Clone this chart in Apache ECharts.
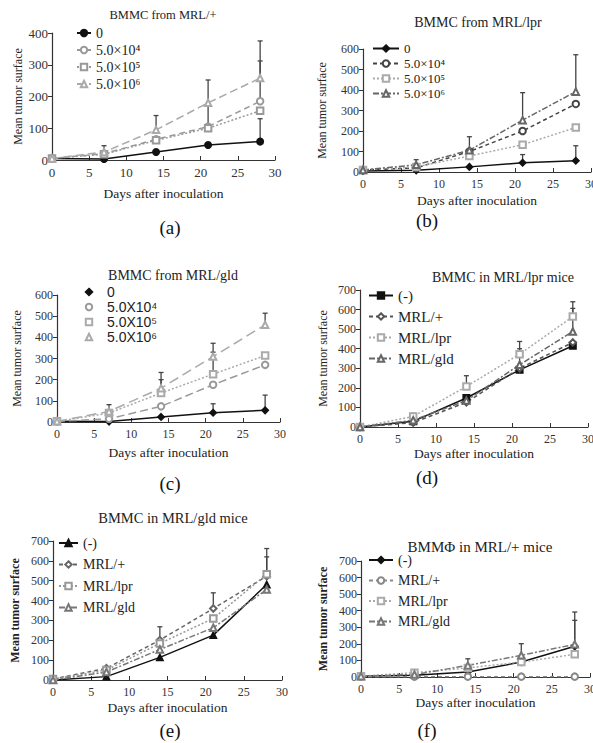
<!DOCTYPE html>
<html><head><meta charset="utf-8">
<script src="https://cdn.jsdelivr.net/npm/echarts@6/dist/echarts.min.js"></script>
<style>html,body{margin:0;padding:0;background:#fff}#c{width:593px;height:743px}</style>
</head><body><div id="c"></div>
<script>
// ---------- data ----------
const days = [0, 7, 14, 21, 28];
const doseNames = ['0', '5.0×10⁴', '5.0×10⁵', '5.0×10⁶'];
const doseNamesC = ['0', '5.0X10⁴', '5.0X10⁵', '5.0X10⁶'];
const donorNames = ['(-)', 'MRL/+', 'MRL/lpr', 'MRL/gld'];

// (a) BMMC from MRL/+
const a0 = [5, 3, 25, 47, 58];
const a4 = [5, 20, 65, 105, 185];
const a5 = [5, 18, 62, 100, 155];
const a6 = [5, 25, 95, 180, 258];
const a0Up = [null, null, null, null, 130];
const a4Up = [null, null, null, 175, 312];
const a5Up = [null, null, null, null, null];
const a6Up = [null, 45, 140, 252, 375];

// (b) BMMC from MRL/lpr
const b0 = [5, 8, 25, 45, 55];
const b4 = [10, 20, 100, 200, 332];
const b5 = [10, 25, 78, 133, 217];
const b6 = [10, 35, 106, 253, 392];
const b0Up = [null, null, null, 85, 128];
const b4Up = [null, null, null, null, null];
const b5Up = [null, null, null, null, null];
const b6Up = [null, 60, 172, 387, 572];

// (c) BMMC from MRL/gld
const c0 = [3, 2, 24, 44, 55];
const c4 = [3, 15, 74, 176, 270];
const c5 = [3, 42, 137, 226, 314];
const c6 = [3, 50, 160, 309, 459];
const c0Up = [null, null, null, 86, 127];
const c4Up = [null, null, null, null, null];
const c5Up = [null, null, 200, 330, null];
const c6Up = [null, 82, 234, 372, 514];

// (d) BMMC in MRL/lpr mice
const d0 = [0, 29, 148, 292, 415];
const dP = [0, 22, 126, 300, 432];
const dL = [0, 54, 207, 372, 564];
const dG = [0, 35, 135, 318, 488];
const d0Up = [null, null, null, null, null];
const dPUp = [null, null, null, null, null];
const dLUp = [null, 70, 262, 437, 640];
const dGUp = [null, null, null, 400, 606];

// (e) BMMC in MRL/gld mice
const e0 = [0, 17, 114, 226, 481];
const eP = [5, 59, 201, 360, 523];
const eL = [5, 50, 184, 310, 533];
const eG = [0, 40, 154, 263, 456];
const e0Up = [null, null, null, null, null];
const ePUp = [null, null, 268, 439, 662];
const eLUp = [null, null, null, null, 620];
const eGUp = [null, null, null, null, null];

// (f) BMMPhi in MRL/+ mice
const f0 = [5, 10, 30, 90, 185];
const fP = [2, 2, 2, 2, 2];
const fL = [5, 26, 55, 90, 137];
const fG = [5, 15, 70, 131, 197];
const f0Up = [null, null, null, null, 342];
const fPUp = [null, null, null, null, null];
const fLUp = [null, null, null, null, null];
const fGUp = [null, null, 110, 201, 392];

// ---------- styles / layout ----------
const SERIF = 'Liberation Serif';
const SANS = 'Liberation Sans';
const TXT = '#222';

const panels = [
  { id: 'a', title: 'BMMC from MRL/+', titlePos: [163, 15], titleSize: 12.5, label: '(a)', labelPos: [170, 227],
    grid: { left: 52, top: 33, width: 223, height: 127 }, yMax: 400, tickSize: 13,
    yNameGap: 28, xNameGap: 26, yBold: false,
    names: doseNames, data: [a0, a4, a5, a6], ups: [a0Up, a4Up, a5Up, a6Up],
    styles: [
      { c: '#111', t: 'solid', s: 'circle' },
      { c: '#999', t: [6, 4], s: 'emptyCircle' },
      { c: '#999', t: [2, 2], s: 'emptyRect' },
      { c: '#aaa', t: [8, 4], s: 'emptyTriangle' }],
    legend: { left: 76, top: 26, itemWidth: 14, itemHeight: 8, itemGap: 3, font: SERIF, size: 14, hideLine: false } },
  { id: 'b', title: 'BMMC from MRL/lpr', titlePos: [478, 22], titleSize: 14, label: '(b)', labelPos: [427, 220],
    grid: { left: 363, top: 49, width: 228, height: 123 }, yMax: 600, tickSize: 12,
    yNameGap: 35, xNameGap: 21, yBold: false,
    names: doseNames, data: [b0, b4, b5, b6], ups: [b0Up, b4Up, b5Up, b6Up],
    styles: [
      { c: '#111', t: 'solid', s: 'diamond' },
      { c: '#444', t: [4, 3], s: 'emptyCircle' },
      { c: '#aaa', t: [2, 2], s: 'emptyRect' },
      { c: '#666', t: [6, 2, 2, 2], s: 'emptyTriangle' }],
    legend: { left: 372, top: 42, itemWidth: 26, itemHeight: 8, itemGap: 2, font: SERIF, size: 13, hideLine: false } },
  { id: 'c', title: 'BMMC from MRL/gld', titlePos: [173, 275], titleSize: 14, label: '(c)', labelPos: [170, 483],
    grid: { left: 57, top: 295, width: 223, height: 127 }, yMax: 600, tickSize: 12,
    yNameGap: 34, xNameGap: 23, yBold: false,
    names: doseNamesC, data: [c0, c4, c5, c6], ups: [c0Up, c4Up, c5Up, c6Up],
    styles: [
      { c: '#111', t: 'solid', s: 'diamond' },
      { c: '#999', t: [8, 4], s: 'emptyCircle' },
      { c: '#aaa', t: [2, 2], s: 'emptyRect' },
      { c: '#aaa', t: [10, 5], s: 'emptyTriangle' }],
    legend: { left: 75, top: 285, itemWidth: 26, itemHeight: 8, itemGap: 1, font: SANS, size: 14, hideLine: true } },
  { id: 'd', title: 'BMMC in MRL/lpr mice', titlePos: [503, 277], titleSize: 14, label: '(d)', labelPos: [427, 477],
    grid: { left: 360, top: 290, width: 228, height: 137 }, yMax: 700, tickSize: 12,
    yNameGap: 31, xNameGap: 19, yBold: false,
    names: donorNames, data: [d0, dP, dL, dG], ups: [d0Up, dPUp, dLUp, dGUp],
    styles: [
      { c: '#111', t: 'solid', s: 'rect' },
      { c: '#555', t: [4, 3], s: 'emptyDiamond' },
      { c: '#aaa', t: [2, 2], s: 'emptyRect' },
      { c: '#666', t: [6, 2, 2, 2], s: 'emptyTriangle' }],
    legend: { left: 368, top: 288, itemWidth: 24, itemHeight: 8, itemGap: 6, font: SERIF, size: 15, hideLine: false } },
  { id: 'e', title: 'BMMC in MRL/gld mice', titlePos: [173, 518], titleSize: 14.5, label: '(e)', labelPos: [170, 730],
    grid: { left: 53, top: 541, width: 229, height: 139 }, yMax: 700, tickSize: 12,
    yNameGap: 32, xNameGap: 20, yBold: true,
    names: donorNames, data: [e0, eP, eL, eG], ups: [e0Up, ePUp, eLUp, eGUp],
    styles: [
      { c: '#111', t: 'solid', s: 'triangle' },
      { c: '#666', t: [4, 3], s: 'emptyDiamond' },
      { c: '#999', t: [2, 2], s: 'emptyRect' },
      { c: '#777', t: [6, 2, 2, 2], s: 'emptyTriangle' }],
    legend: { left: 58, top: 536, itemWidth: 19, itemHeight: 8, itemGap: 7.5, font: SERIF, size: 14, hideLine: false } },
  { id: 'f', title: 'BMMΦ in MRL/+ mice', titlePos: [480, 547], titleSize: 15, label: '(f)', labelPos: [427, 730],
    grid: { left: 361, top: 561, width: 229, height: 116 }, yMax: 700, tickSize: 12,
    yNameGap: 32, xNameGap: 18, yBold: true,
    names: donorNames, data: [f0, fP, fL, fG], ups: [f0Up, fPUp, fLUp, fGUp],
    styles: [
      { c: '#111', t: 'solid', s: 'diamond' },
      { c: '#888', t: [4, 3], s: 'emptyCircle' },
      { c: '#aaa', t: [2, 2], s: 'emptyRect' },
      { c: '#777', t: [6, 2, 2, 2], s: 'emptyTriangle' }],
    legend: { left: 368, top: 553, itemWidth: 24, itemHeight: 8, itemGap: 6.5, font: SERIF, size: 14, hideLine: false } }
];

// ---------- build option ----------
const grids = [], xAxes = [], yAxes = [], series = [], legends = [], graphics = [];
panels.forEach((p, i) => {
  grids.push(Object.assign({ containLabel: false, outerBoundsMode: 'none' }, p.grid));
  xAxes.push({
    type: 'value', gridIndex: i, min: 0, max: 30, interval: 5,
    name: 'Days after inoculation', nameLocation: 'middle', nameGap: p.xNameGap,
    nameTextStyle: { fontFamily: SERIF, fontSize: 13.5, color: TXT, fontWeight: 'normal' },
    axisLine: { lineStyle: { color: '#333', width: 1.2 } },
    axisTick: { inside: true, length: 4, lineStyle: { color: '#333' } },
    axisLabel: { fontFamily: SERIF, fontSize: p.tickSize, color: '#333', margin: 6 },
    splitLine: { show: false }
  });
  yAxes.push({
    type: 'value', gridIndex: i, min: 0, max: p.yMax, interval: 100,
    name: 'Mean tumor surface', nameLocation: 'middle', nameGap: p.yNameGap, nameRotate: 90,
    nameTextStyle: { fontFamily: SERIF, fontSize: 12, color: TXT, fontWeight: p.yBold ? 'bold' : 'normal' },
    axisLine: { show: true, lineStyle: { color: '#333', width: 1.2 } },
    axisTick: { show: true, length: 4, lineStyle: { color: '#333' } },
    axisLabel: { fontFamily: SERIF, fontSize: p.tickSize, color: '#333', margin: 4 },
    splitLine: { show: false }
  });
  // error bars (beneath the lines)
  p.ups.forEach((up, k) => {
    const pts = [];
    days.forEach((d, j) => { if (up[j] != null) pts.push([d, p.data[k][j], up[j]]); });
    if (!pts.length) return;
    series.push({
      type: 'custom', xAxisIndex: i, yAxisIndex: i, z: 1, silent: true,
      dimensions: ['x', 'y', 'u'], encode: { x: 0, y: 1 },
      data: pts,
      renderItem: (params, api) => {
        const a = api.coord([api.value(0), api.value(1)]);
        const b = api.coord([api.value(0), api.value(2)]);
        const st = { stroke: '#444', lineWidth: 1.3 };
        return { type: 'group', children: [
          { type: 'line', shape: { x1: a[0], y1: a[1], x2: b[0], y2: b[1] }, style: st },
          { type: 'line', shape: { x1: b[0] - 2.5, y1: b[1], x2: b[0] + 2.5, y2: b[1] }, style: st }
        ] };
      }
    });
  });
  p.names.forEach((n, k) => {
    const st = p.styles[k];
    series.push({
      type: 'line', name: p.id + '|' + n, xAxisIndex: i, yAxisIndex: i, z: 3,
      data: days.map((d, j) => [d, p.data[k][j]]),
      symbol: st.s, symbolSize: 6.5, showAllSymbol: true,
      lineStyle: { color: st.c, width: 1.5, type: st.t },
      itemStyle: { color: st.c, borderColor: st.c, borderWidth: 1.5 },
      emphasis: { disabled: true }, animation: false
    });
  });
  const L = p.legend;
  legends.push({
    orient: 'vertical', left: L.left, top: L.top, padding: 0,
    itemWidth: L.itemWidth, itemHeight: L.itemHeight, itemGap: L.itemGap,
    selectedMode: false,
    data: p.names.map(n => p.id + '|' + n),
    formatter: name => name.split('|')[1],
    textStyle: { fontFamily: L.font, fontSize: L.size, color: TXT },
    lineStyle: L.hideLine ? { opacity: 0 } : {}
  });
  graphics.push({ type: 'text', x: p.titlePos[0], y: p.titlePos[1],
    style: { text: p.title, fontFamily: SERIF, fontSize: p.titleSize, fill: TXT, align: 'center', verticalAlign: 'middle' } });
  graphics.push({ type: 'text', x: p.labelPos[0], y: p.labelPos[1],
    style: { text: p.label, fontFamily: SERIF, fontSize: 19, fill: '#111', align: 'center', verticalAlign: 'middle' } });
});

const chart = echarts.init(document.getElementById('c'), null, { renderer: 'svg' });
chart.setOption({
  animation: false,
  backgroundColor: '#fff',
  textStyle: { fontFamily: SERIF },
  grid: grids, xAxis: xAxes, yAxis: yAxes,
  legend: legends, series: series, graphic: graphics
});
</script>
</body></html>
